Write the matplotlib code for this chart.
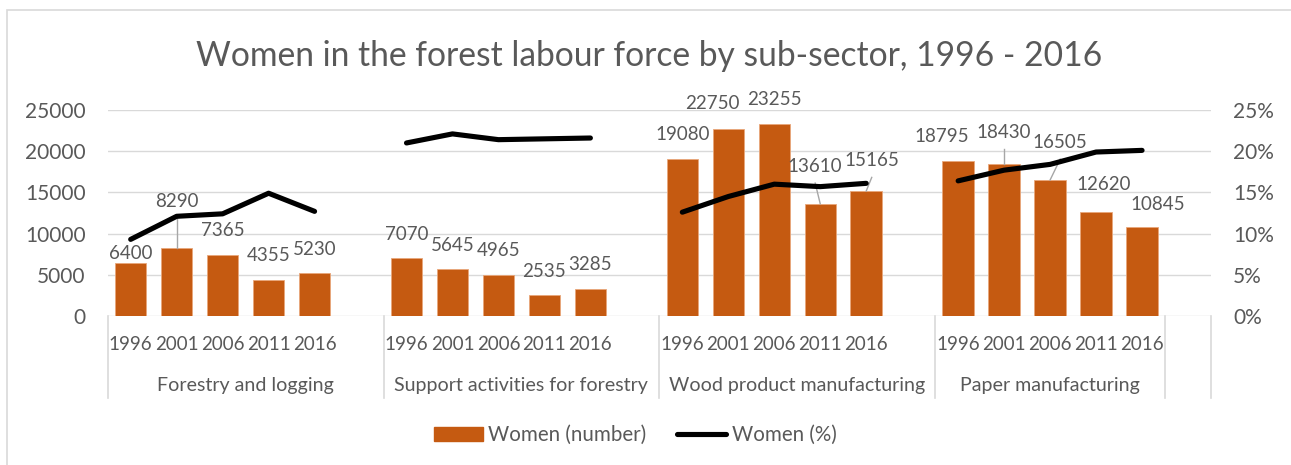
import numpy as np
import matplotlib
matplotlib.use("Agg")
import matplotlib.pyplot as plt
from matplotlib.patches import Patch, Rectangle
from matplotlib.lines import Line2D
from matplotlib.transforms import blended_transform_factory

# ---- data -----------------------------------------------------------------
title = "Women in the forest labour force by sub-sector, 1996 - 2016"
years = ["1996", "2001", "2006", "2011", "2016"]
sectors = ["Forestry and logging", "Support activities for forestry",
           "Wood product manufacturing", "Paper manufacturing"]

forestry_number = [6400, 8290, 7365, 4355, 5230]
support_number = [7070, 5645, 4965, 2535, 3285]
wood_number = [19080, 22750, 23255, 13610, 15165]
paper_number = [18795, 18430, 16505, 12620, 10845]

forestry_pct = [9.3, 12.1, 12.4, 14.9, 12.7]
support_pct = [21.0, 22.1, 21.4, 21.5, 21.6]
wood_pct = [12.6, 14.5, 16.0, 15.7, 16.1]
paper_pct = [16.4, 17.7, 18.4, 19.9, 20.1]

numbers = [forestry_number, support_number, wood_number, paper_number]
pcts = [forestry_pct, support_pct, wood_pct, paper_pct]

# ---- label placement (x shift in category slots, label centre in axis units)
label_dx = [[0, 0, 0, 0, 0],
            [0, 0, 0, 0, 0],
            [0, -0.34, 0, -0.11, 0.12],
            [-0.35, 0, 0.22, 0.17, 0.34]]
label_y = [[7610, 13880, 10350, 7320, 8130],
           [9950, 8530, 7930, 5460, 6190],
           [22060, 25820, 26220, 18130, 18820],
           [21770, 22300, 21040, 15900, 13560]]
leader = [[False, True, False, False, False],
          [False, False, False, False, False],
          [False, False, False, True, True],
          [False, True, True, False, False]]

# ---- styling ---------------------------------------------------------------
BAR = "#C55A11"
TXT = "#595959"
GRID = "#D9D9D9"
FONT = "Lato"
plt.rcParams["font.family"] = [FONT, "DejaVu Sans"]

W, H, DPI = 1291, 465, 100
fig = plt.figure(figsize=(W / DPI, H / DPI), dpi=DPI)
fig.patch.set_facecolor("white")

# chart border
fig.patches.append(Rectangle((7 / W, -0.1), 1.2, (H - 10) / H + 0.1,
                             transform=fig.transFigure, fill=False,
                             edgecolor=GRID, linewidth=1.2))

left, right = 107.7 / W, 1211 / W
bottom, top = (H - 316) / H, (H - 110) / H
ax = fig.add_axes([left, bottom, right - left, top - bottom])
ax2 = ax.twinx()

# slot layout: each sector gets 5 year slots followed by one empty slot
per_group = len(years) + 1
n_slots = len(sectors) * per_group
slot_of = [[g * per_group + i for i in range(len(years))]
           for g in range(len(sectors))]

bar_x, bar_h = [], []
line_y = np.full(n_slots, np.nan)
for g in range(len(sectors)):
    for i in range(len(years)):
        s = slot_of[g][i]
        bar_x.append(s)
        bar_h.append(numbers[g][i])
        line_y[s] = pcts[g][i] / 100.0

ax.bar(bar_x, bar_h, width=0.685, color=BAR, edgecolor="#E9A77A",
       linewidth=0.6, zorder=2)

ax.set_xlim(-0.5, n_slots - 0.5)
ax.set_ylim(0, 25000)
ax.set_yticks(np.arange(0, 25001, 5000))
ax.yaxis.grid(True, color=GRID, linewidth=1.0, zorder=0)
ax.set_axisbelow(True)
ax.set_xticks([])
ax.tick_params(axis="y", length=0, pad=16, labelsize=15, labelcolor=TXT)
for sp in ax.spines.values():
    sp.set_visible(False)

# percentage line on the secondary axis
ax2.plot(np.arange(n_slots), line_y, color="black", linewidth=3.7,
         solid_capstyle="round", solid_joinstyle="round", zorder=4)
ax2.set_ylim(0, 0.25)
pct_ticks = np.arange(0, 0.2501, 0.05)
ax2.set_yticks(pct_ticks)
ax2.set_yticklabels([f"{int(round(v * 100))}%" for v in pct_ticks])
ax2.tick_params(axis="y", length=0, pad=16, labelsize=15, labelcolor=TXT)
for sp in ax2.spines.values():
    sp.set_visible(False)

# data labels with leader lines
for g in range(len(sectors)):
    for i in range(len(years)):
        s = slot_of[g][i]
        v = numbers[g][i]
        lx = s + label_dx[g][i]
        ly = label_y[g][i]
        if leader[g][i]:
            ax.plot([s, lx], [v, ly - 2000], color="#A6A6A6", linewidth=1.0,
                    zorder=3, clip_on=False)
        ax.text(lx, ly, f"{v}", ha="center", va="center", fontsize=13.5,
                color=TXT, zorder=5, clip_on=False)

# two-level category axis: a sector spans from its first year slot up to the
# next sector; the last sector ends after its final year, leaving a lone slot
tr = blended_transform_factory(ax.transData, ax.transAxes)
spans = []
for g in range(len(sectors)):
    lo = slot_of[g][0] - 0.5
    hi = slot_of[g + 1][0] - 0.5 if g + 1 < len(sectors) else slot_of[g][-1] + 0.5
    spans.append((lo, hi))
bounds = sorted({b for sp_ in spans for b in sp_} | {n_slots - 0.5})
for b in bounds:
    ax.plot([b, b], [0, -0.40], transform=tr, color=GRID, linewidth=1.2,
            clip_on=False, zorder=1)
for g in range(len(sectors)):
    for i in range(len(years)):
        ax.text(slot_of[g][i], -0.136, years[i], transform=tr, ha="center",
                va="center", fontsize=13.5, color=TXT)
    lo, hi = spans[g]
    ax.text((lo + hi) / 2, -0.335, sectors[g], transform=tr, ha="center",
            va="center", fontsize=14.1, color=TXT)

# title
fig.text(648.9 / W, (H - 66) / H, title, ha="center", va="baseline",
         fontsize=24.2, color=TXT)

# legend
handles = [Patch(facecolor=BAR, edgecolor=BAR),
           Line2D([0], [0], color="black", linewidth=3.7, solid_capstyle="round")]
leg = fig.legend(handles, ["Women (number)", "Women (%)"], loc="center",
                 bbox_to_anchor=(635 / W, (H - 435) / H), ncol=2, frameon=False,
                 fontsize=14.8, handlelength=2.4, handleheight=0.7,
                 handletextpad=0.25, columnspacing=1.5)
for t in leg.get_texts():
    t.set_color(TXT)

fig.savefig("out.png", dpi=DPI, facecolor="white")
